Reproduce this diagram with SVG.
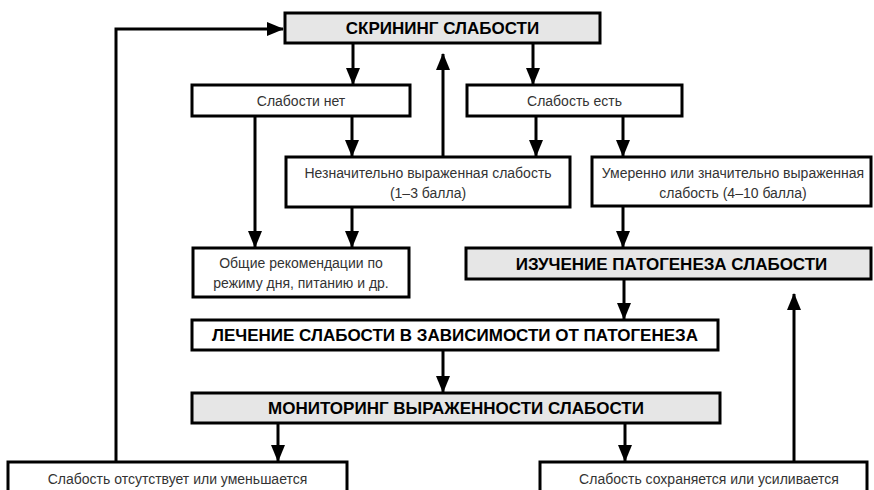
<svg xmlns="http://www.w3.org/2000/svg" width="874" height="490" viewBox="0 0 874 490">
<style>
.box{fill:#fff;stroke:#000;stroke-width:3}
.gray{fill:#e6e6e6}
.t{font-family:"Liberation Sans",Arial,sans-serif;font-size:14px;fill:#333;text-anchor:middle}
.b{font-family:"Liberation Sans",Arial,sans-serif;font-size:17px;font-weight:bold;fill:#000;text-anchor:middle}
.c{fill:none;stroke:#000;stroke-width:3}
</style>
<defs>
<marker id="ah" markerUnits="userSpaceOnUse" markerWidth="17" markerHeight="14" refX="16" refY="7" orient="auto">
<path d="M0,0 L17,7 L0,14 z" fill="#000"/>
</marker>
</defs>
<rect width="874" height="490" fill="#fff"/>
<g id="connectors">
<path class="c" d="M116,462 V29 H283" marker-end="url(#ah)"/>
<path class="c" d="M353,43 V84" marker-end="url(#ah)"/>
<path class="c" d="M533,43 V84" marker-end="url(#ah)"/>
<path class="c" d="M443,157 V54" marker-end="url(#ah)"/>
<path class="c" d="M255,116 V247" marker-end="url(#ah)"/>
<path class="c" d="M352,116 V156" marker-end="url(#ah)"/>
<path class="c" d="M536,116 V156" marker-end="url(#ah)"/>
<path class="c" d="M623,116 V156" marker-end="url(#ah)"/>
<path class="c" d="M352,207 V247" marker-end="url(#ah)"/>
<path class="c" d="M623,207 V247" marker-end="url(#ah)"/>
<path class="c" d="M624,279 V319" marker-end="url(#ah)"/>
<path class="c" d="M443,350 V392" marker-end="url(#ah)"/>
<path class="c" d="M278,423 V461" marker-end="url(#ah)"/>
<path class="c" d="M625,423 V461" marker-end="url(#ah)"/>
<path class="c" d="M794,462 V294" marker-end="url(#ah)"/>
</g>
<g id="screening">
<rect class="box gray" x="285" y="13" width="315" height="30"/>
<text class="b" x="442.5" y="34">СКРИНИНГ СЛАБОСТИ</text>
</g>
<g id="no-weakness">
<rect class="box" x="192" y="85" width="218" height="31"/>
<text class="t" x="301" y="105.5">Слабости нет</text>
</g>
<g id="weakness">
<rect class="box" x="467" y="85" width="215" height="31"/>
<text class="t" x="574.5" y="105.5">Слабость есть</text>
</g>
<g id="mild">
<rect class="box" x="286" y="157" width="284" height="50"/>
<text class="t" x="428" y="177.5">Незначительно выраженная слабость</text>
<text class="t" x="428" y="197.5">(1–3 балла)</text>
</g>
<g id="moderate">
<rect class="box" x="592" y="157" width="279" height="49"/>
<text class="t" x="733" y="177.5">Умеренно или значительно выраженная</text>
<text class="t" x="733" y="197.5">слабость (4–10 балла)</text>
</g>
<g id="general">
<rect class="box" x="193" y="248" width="216" height="49"/>
<text class="t" x="301" y="267.5">Общие рекомендации по</text>
<text class="t" x="301" y="287.5">режиму дня, питанию и др.</text>
</g>
<g id="pathogenesis">
<rect class="box gray" x="466" y="248" width="405" height="31"/>
<text class="b" x="671.5" y="269.5">ИЗУЧЕНИЕ ПАТОГЕНЕЗА СЛАБОСТИ</text>
</g>
<g id="treatment">
<rect class="box" x="192" y="320" width="526" height="30"/>
<text class="b" x="455" y="341">ЛЕЧЕНИЕ СЛАБОСТИ В ЗАВИСИМОСТИ ОТ ПАТОГЕНЕЗА</text>
</g>
<g id="monitoring">
<rect class="box gray" x="192" y="393" width="528" height="30"/>
<text class="b" x="456" y="414">МОНИТОРИНГ ВЫРАЖЕННОСТИ СЛАБОСТИ</text>
</g>
<g id="decrease">
<rect class="box" x="8" y="462" width="339" height="40"/>
<text class="t" x="177.5" y="483.5">Слабость отсутствует или уменьшается</text>
</g>
<g id="increase">
<rect class="box" x="540" y="462" width="327" height="40"/>
<text class="t" x="709" y="483.5">Слабость сохраняется или усиливается</text>
</g>
</svg>
